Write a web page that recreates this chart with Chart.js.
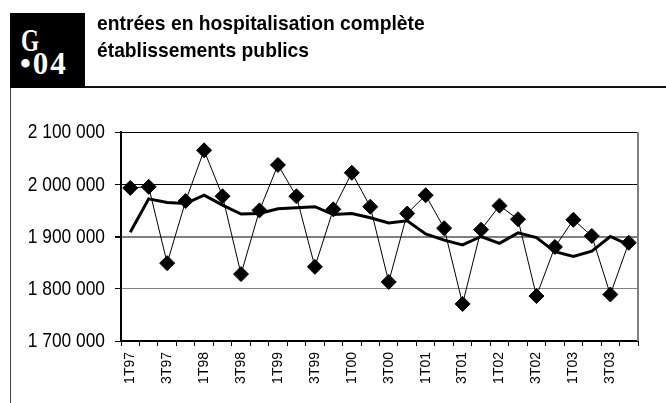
<!DOCTYPE html>
<html>
<head>
<meta charset="utf-8">
<script src="https://cdn.jsdelivr.net/npm/chart.js@4.4.0/dist/chart.umd.min.js"></script>
<style>
  body { margin: 0; background: #fff; }
  #wrap { position: relative; width: 666px; height: 403px; overflow: hidden; }
  #wrap canvas { position: absolute; left: 0; top: 0; }
  .badge {
    position: absolute; left: 10px; top: 13px; width: 75px; height: 75px;
    background: #000; color: #fff;
    font-family: 'Liberation Serif', serif; font-weight: bold;
    font-size: 31px; line-height: 31px; white-space: nowrap;
  }
  .badge .g { position: absolute; left: 11px; top: 12px; transform: scaleX(0.75); transform-origin: left; }
  .badge .n { position: absolute; left: 10px; top: 35px; letter-spacing: 2px; }
  .title {
    position: absolute; left: 97px; top: 9px; white-space: nowrap;
    font-family: 'Liberation Sans', Arial, sans-serif;
    font-weight: bold; font-size: 20.5px; line-height: 27px; color: #000;
    transform: scaleX(0.94); transform-origin: left top;
  }
  .hline { position: absolute; left: 85px; right: 0; top: 86px; height: 2px; background: #111; }
  .vline { position: absolute; left: 10px; top: 88px; bottom: 0; width: 1px; background: #444; }
</style>
</head>
<body>
<div id="wrap">
  <canvas id="hospChart"></canvas>
  <div class="badge"><span class="g">G</span><span class="n">•04</span></div>
  <div class="title">entrées en hospitalisation complète<br>établissements publics</div>
  <div class="hline"></div>
  <div class="vline"></div>
</div>
<script>
// Quarterly labels 1T97 .. 4T03
const quarters = [
    '1T97', '2T97', '3T97', '4T97', '1T98', '2T98', '3T98', '4T98',
    '1T99', '2T99', '3T99', '4T99', '1T00', '2T00', '3T00', '4T00',
    '1T01', '2T01', '3T01', '4T01', '1T02', '2T02', '3T02', '4T02',
    '1T03', '2T03', '3T03', '4T03'
];

// Raw quarterly admissions (diamonds)
const entrees = [
    1993000, 1995000, 1849000, 1968000, 2065000, 1977000, 1828000, 1950000,
    2037000, 1977000, 1842000, 1952000, 2022000, 1957000, 1813000, 1944000,
    1979000, 1916000, 1771000, 1913000, 1959000, 1933000, 1786000, 1880000,
    1932000, 1901000, 1789000, 1888000
];

// Smoothed series (thick line)
const tendance = [
    1908000, 1972000, 1965000, 1963000, 1979000, 1960000, 1943000, 1944000,
    1953000, 1955000, 1957000, 1942000, 1944000, 1936000, 1926000, 1930000,
    1905000, 1893000, 1884000, 1900000, 1887000, 1907000, 1898000, 1871000,
    1862000, 1872000, 1900000, 1884000
];

const yTicks = [1700000, 1800000, 1900000, 2000000, 2100000];

const fmt = v => String(v).replace(/\B(?=(\d{3})+(?!\d))/g, ' ');

// grey right-hand frame + condensed y labels (the original uses a narrow face)
const frameAndLabels = {
    id: 'frameAndLabels',
    afterDraw(chart) {
        const { ctx, chartArea } = chart;
        const yScale = chart.scales.y;
        ctx.save();
        ctx.strokeStyle = '#808080';
        ctx.lineWidth = 2;
        ctx.beginPath();
        ctx.moveTo(chartArea.right, chartArea.top);
        ctx.lineTo(chartArea.right, chartArea.bottom);
        ctx.stroke();

        ctx.fillStyle = '#000';
        ctx.font = "19.5px 'Liberation Sans', Arial, sans-serif";
        ctx.textAlign = 'right';
        ctx.textBaseline = 'middle';
        const sx = 0.89;
        const xr = chartArea.left - 16;
        yTicks.forEach(v => {
            const y = yScale.getPixelForValue(v);
            ctx.save();
            ctx.translate(xr, y + 1);
            ctx.scale(sx, 1);
            ctx.fillText(fmt(v), 0, 0);
            ctx.restore();
        });
        ctx.restore();
    }
};

const ctx = document.getElementById('hospChart').getContext('2d');
new Chart(ctx, {
    type: 'line',
    data: {
        labels: quarters,
        datasets: [{
            label: 'entrées',
            data: entrees,
            borderColor: '#000',
            borderWidth: 1,
            pointStyle: 'rectRot',
            pointRadius: 7.5,
            pointBackgroundColor: '#000',
            pointBorderColor: '#000',
            pointBorderWidth: 1,
            tension: 0
        }, {
            label: 'tendance',
            data: tendance,
            borderColor: '#000',
            borderWidth: 3,
            pointRadius: 0,
            tension: 0
        }]
    },
    options: {
        responsive: true,
        maintainAspectRatio: false,
        animation: false,
        layout: { padding: { left: 0, top: 132, right: 28, bottom: 0 } },
        plugins: { legend: { display: false }, tooltip: { enabled: false } },
        scales: {
            y: {
                min: yTicks[0],
                max: yTicks[yTicks.length - 1],
                afterFit: axis => { axis.width = 121; },
                afterBuildTicks: axis => { axis.ticks = yTicks.map(v => ({ value: v })); },
                border: { color: '#000', width: 2 },
                grid: {
                    color: c => (c.tick && (c.tick.value === 1900000 || c.tick.value === 1800000)) ? '#808080' : '#000',
                    lineWidth: c => (c.tick && c.tick.value === 1900000) ? 2 : 1,
                    tickLength: 6,
                    tickColor: '#000'
                },
                ticks: { display: false }
            },
            x: {
                offset: true,
                afterFit: axis => { axis.height = 62; },
                border: { color: '#000', width: 2 },
                grid: {
                    offset: true,
                    drawOnChartArea: false,
                    tickLength: 5,
                    tickColor: '#000'
                },
                ticks: {
                    color: '#000',
                    autoSkip: false,
                    maxRotation: 90,
                    minRotation: 90,
                    padding: 6,
                    font: { family: "'Liberation Sans', Arial, sans-serif", size: 14 },
                    callback: function (v, i) { return i % 2 === 0 ? quarters[i] : ''; }
                }
            }
        }
    },
    plugins: [frameAndLabels]
});
</script>
</body>
</html>
